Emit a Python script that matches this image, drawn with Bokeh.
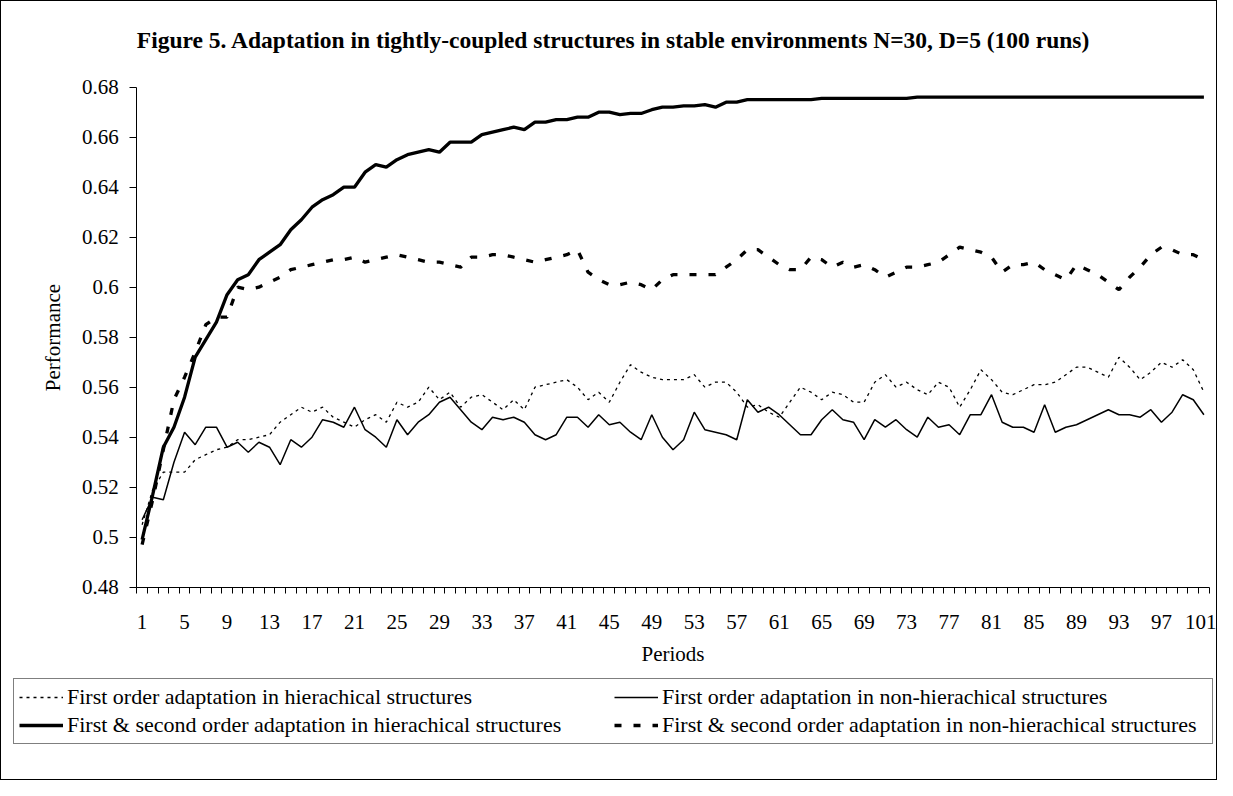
from bokeh.plotting import figure
from bokeh.models import Range1d, FixedTicker, Legend, LegendItem, Label
from bokeh.embed import file_html
from bokeh.resources import INLINE

TITLE = "Figure 5.  Adaptation in tightly-coupled structures in stable environments N=30, D=5 (100 runs)"
X_LABEL = "Periods"
Y_LABEL = "Performance"

periods = list(range(1, 102))
x_tick_periods = list(range(1, 102, 4))
y_ticks = [0.48, 0.5, 0.52, 0.54, 0.56, 0.58, 0.6, 0.62, 0.64, 0.66, 0.68]
y_tick_labels = ["0.48", "0.5", "0.52", "0.54", "0.56", "0.58", "0.6", "0.62", "0.64", "0.66", "0.68"]

series_names = [
    "First order adaptation in hierachical structures",
    "First & second order adaptation in hierachical structures",
    "First order adaptation in non-hierachical structures",
    "First & second order adaptation in non-hierachical structures",
]

# First order adaptation in hierachical structures (dotted)
f1h = [0.505, 0.519, 0.526, 0.526, 0.526, 0.531, 0.533, 0.535, 0.536, 0.539,
       0.539, 0.540, 0.541, 0.546, 0.549, 0.552, 0.550, 0.552, 0.548, 0.546,
       0.544, 0.547, 0.549, 0.546, 0.554, 0.552, 0.554, 0.560, 0.555, 0.558,
       0.552, 0.556, 0.557, 0.554, 0.551, 0.555, 0.551, 0.560, 0.561, 0.562,
       0.563, 0.560, 0.555, 0.558, 0.554, 0.562, 0.569, 0.566, 0.564, 0.563,
       0.563, 0.563, 0.565, 0.560, 0.562, 0.562, 0.558, 0.552, 0.553, 0.550,
       0.548, 0.554, 0.560, 0.558, 0.555, 0.558, 0.557, 0.554, 0.554, 0.562,
       0.565, 0.560, 0.562, 0.559, 0.557, 0.562, 0.560, 0.552, 0.559, 0.567,
       0.563, 0.558, 0.557, 0.559, 0.561, 0.561, 0.562, 0.565, 0.568, 0.568,
       0.566, 0.564, 0.572, 0.568, 0.563, 0.566, 0.570, 0.568, 0.571, 0.567, 0.558]

# First order adaptation in non-hierachical structures (thin solid)
f1n = [0.507, 0.516, 0.515, 0.530, 0.542, 0.537, 0.544, 0.544, 0.536, 0.538,
       0.534, 0.538, 0.536, 0.529, 0.539, 0.536, 0.540, 0.547, 0.546, 0.544,
       0.552, 0.543, 0.540, 0.536, 0.547, 0.541, 0.546, 0.549, 0.554, 0.556,
       0.551, 0.546, 0.543, 0.548, 0.547, 0.548, 0.546, 0.541, 0.539, 0.541,
       0.548, 0.548, 0.544, 0.549, 0.545, 0.546, 0.542, 0.539, 0.549, 0.540,
       0.535, 0.539, 0.550, 0.543, 0.542, 0.541, 0.539, 0.555, 0.550, 0.552,
       0.549, 0.545, 0.541, 0.541, 0.547, 0.551, 0.547, 0.546, 0.539, 0.547,
       0.544, 0.547, 0.543, 0.540, 0.548, 0.544, 0.545, 0.541, 0.549, 0.549,
       0.557, 0.546, 0.544, 0.544, 0.542, 0.553, 0.542, 0.544, 0.545, 0.547,
       0.549, 0.551, 0.549, 0.549, 0.548, 0.551, 0.546, 0.550, 0.557, 0.555, 0.549]

# First & second order adaptation in hierachical structures (thick solid)
s2h = [0.499, 0.517, 0.536, 0.544, 0.556, 0.572, 0.579, 0.586, 0.597, 0.603,
       0.605, 0.611, 0.614, 0.617, 0.623, 0.627, 0.632, 0.635, 0.637, 0.640,
       0.640, 0.646, 0.649, 0.648, 0.651, 0.653, 0.654, 0.655, 0.654, 0.658,
       0.658, 0.658, 0.661, 0.662, 0.663, 0.664, 0.663, 0.666, 0.666, 0.667,
       0.667, 0.668, 0.668, 0.670, 0.670, 0.669, 0.6695, 0.6695, 0.671, 0.672,
       0.672, 0.6725, 0.6725, 0.673, 0.672, 0.674, 0.674, 0.675, 0.675, 0.675,
       0.675, 0.675, 0.675, 0.675, 0.6755, 0.6755, 0.6755, 0.6755, 0.6755, 0.6755,
       0.6755, 0.6755, 0.6755, 0.676, 0.676, 0.676, 0.676, 0.676, 0.676, 0.676,
       0.676, 0.676, 0.676, 0.676, 0.676, 0.676, 0.676, 0.676, 0.676, 0.676,
       0.676, 0.676, 0.676, 0.676, 0.676, 0.676, 0.676, 0.676, 0.676, 0.676, 0.676]

# First & second order adaptation in non-hierachical structures (thick dashed)
s2n = [0.497, 0.515, 0.535, 0.555, 0.564, 0.574, 0.585, 0.588, 0.588, 0.600,
       0.599, 0.600, 0.602, 0.604, 0.607, 0.608, 0.609, 0.610, 0.611, 0.611,
       0.612, 0.610, 0.611, 0.612, 0.613, 0.612, 0.611, 0.610, 0.610, 0.609,
       0.608, 0.612, 0.612, 0.613, 0.613, 0.612, 0.611, 0.610, 0.611, 0.612,
       0.613, 0.615, 0.606, 0.603, 0.601, 0.601, 0.602, 0.601, 0.599, 0.603,
       0.605, 0.605, 0.605, 0.605, 0.605, 0.608, 0.611, 0.615, 0.615, 0.612,
       0.609, 0.607, 0.607, 0.612, 0.611, 0.608, 0.610, 0.608, 0.609, 0.607,
       0.604, 0.606, 0.608, 0.608, 0.609, 0.610, 0.613, 0.616, 0.615, 0.614,
       0.612, 0.606, 0.609, 0.609, 0.610, 0.607, 0.605, 0.603, 0.609, 0.607,
       0.605, 0.602, 0.599, 0.604, 0.608, 0.613, 0.616, 0.615, 0.613, 0.613, 0.611]

FONT = "Liberation Serif"

# ---- layout (pixels) ----
W, H = 1217, 780
PX_PER_PERIOD = 10.618      # horizontal scale of the plot area
PX_PER_UNIT = 2500.0        # vertical scale (0.02 -> 50 px)
AXIS_LEFT_PX = 135.3        # y axis position from figure left
AXIS_TOP_PX = 85.7          # 0.68 position from figure top
AXIS_BOTTOM_PX = 585.7      # 0.48 position from figure top

x0 = 0.5 - AXIS_LEFT_PX / PX_PER_PERIOD
x1 = x0 + W / PX_PER_PERIOD
y1 = y_ticks[-1] + AXIS_TOP_PX / PX_PER_UNIT
y0 = y_ticks[0] - (H - AXIS_BOTTOM_PX) / PX_PER_UNIT

p = figure(width=W, height=H, output_backend="svg", toolbar_location=None,
           title_location=None,
           x_range=Range1d(x0, x1), y_range=Range1d(y0, y1),
           min_border_left=0, min_border_right=0, min_border_top=0, min_border_bottom=0)
p.styles = {"border": "1px solid black"}

p.xgrid.visible = False
p.ygrid.visible = False
p.outline_line_color = None
p.background_fill_color = "white"
p.border_fill_color = "white"

r_f1h = p.line(periods, f1h, line_color="black", line_width=1.3, line_dash="3 4")
r_f1n = p.line(periods, f1n, line_color="black", line_width=1.5)
r_s2h = p.line(periods, s2h, line_color="black", line_width=3.3)
r_s2n = p.line(periods, s2n, line_color="black", line_width=3.3, line_dash="7 12")

x_lo = periods[0] - 0.5
x_hi = periods[-1] + 0.5
boundaries = [v - 0.5 for v in periods] + [x_hi]

xa = p.xaxis[0]
xa.fixed_location = y_ticks[0]
xa.bounds = (x_lo, x_hi)
xa.ticker = FixedTicker(ticks=x_tick_periods, minor_ticks=boundaries)
xa.major_tick_out = 0
xa.major_tick_in = 0
xa.minor_tick_out = 6
xa.minor_tick_in = 0
xa.minor_tick_line_color = "black"
xa.axis_line_color = "black"
xa.major_label_text_font = FONT
xa.major_label_text_font_size = "21px"
xa.major_label_text_color = "black"
xa.major_label_standoff = 22
xa.axis_label = X_LABEL
xa.axis_label_text_font = FONT
xa.axis_label_text_font_size = "21px"
xa.axis_label_text_font_style = "normal"
xa.axis_label_text_color = "black"
xa.axis_label_standoff = 9

ya = p.yaxis[0]
ya.fixed_location = x_lo
ya.bounds = (y_ticks[0], y_ticks[-1])
ya.ticker = FixedTicker(ticks=y_ticks)
ya.major_label_overrides = dict(zip(y_ticks, y_tick_labels))
ya.major_tick_out = 7
ya.major_tick_in = 0
ya.minor_tick_out = 0
ya.minor_tick_in = 0
ya.axis_line_color = "black"
ya.major_tick_line_color = "black"
ya.major_label_text_font = FONT
ya.major_label_text_font_size = "21px"
ya.major_label_text_color = "black"
ya.major_label_standoff = 11
ya.axis_label = Y_LABEL
ya.axis_label_text_font = FONT
ya.axis_label_text_font_size = "21px"
ya.axis_label_text_font_style = "normal"
ya.axis_label_text_color = "black"
ya.axis_label_standoff = 14

# title drawn as a label just above the plot area, starting at the y axis
title = Label(x=x_lo, y=y_ticks[-1] + 47 / PX_PER_UNIT, text=TITLE,
              text_font=FONT, text_font_size="23.5px", text_font_style="bold",
              text_color="black", text_align="left", text_baseline="alphabetic")
p.add_layout(title)

legend = Legend(items=[
    LegendItem(label=series_names[0], renderers=[r_f1h]),
    LegendItem(label=series_names[1], renderers=[r_s2h]),
    LegendItem(label=series_names[2], renderers=[r_f1n]),
    LegendItem(label=series_names[3], renderers=[r_s2n]),
], location=(12, 37), orientation="vertical", ncols=2)
legend.border_line_color = "black"
legend.border_line_width = 1
legend.background_fill_color = "white"
legend.background_fill_alpha = 1
legend.label_text_font = FONT
legend.label_text_font_size = "22px"
legend.label_text_color = "black"
legend.glyph_width = 44
legend.glyph_height = 22
legend.label_height = 22
legend.label_width = 545
legend.label_standoff = 4
legend.spacing = 2
legend.padding = 5
legend.margin = 0
p.add_layout(legend)

open("out.html", "w").write(file_html(p, INLINE))
